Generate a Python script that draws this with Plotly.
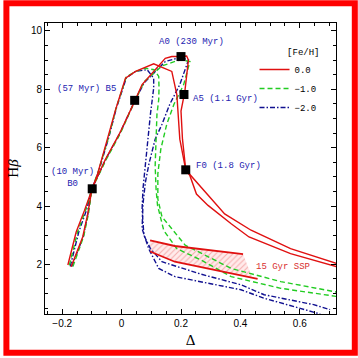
import plotly.graph_objects as go

# ---------------- data (Delta, Hbeta) ----------------
r1_d = [-0.181, -0.153, -0.125, -0.100, -0.081, -0.048, -0.020, 0.013, 0.047, 0.108, 0.169, 0.186, 0.191, 0.196, 0.216, 0.291, 0.347, 0.436, 0.569, 0.725]
r1_h = [1.98, 3.11, 3.85, 4.59, 5.10, 6.29, 7.31, 8.38, 8.61, 8.87, 8.61, 7.82, 7.14, 6.29, 5.24, 4.36, 3.73, 3.17, 2.54, 2.03]

r2_d = [-0.170, -0.131, -0.114, -0.100, -0.054, -0.008, 0.045, 0.069, 0.147, 0.169, 0.200, 0.219, 0.225, 0.213, 0.200, 0.205, 0.216, 0.230, 0.252, 0.291, 0.369, 0.429, 0.569, 0.725]
r2_h = [1.92, 2.94, 3.73, 4.59, 5.61, 6.46, 7.61, 8.16, 9.06, 9.12, 9.12, 9.14, 9.00, 7.93, 7.25, 6.29, 5.24, 5.04, 4.41, 4.02, 3.39, 2.94, 2.37, 1.92]

g1_d = [-0.176, -0.148, -0.121, -0.100, -0.078, -0.044, -0.018, 0.016, 0.047, 0.080, 0.109, 0.125, 0.126, 0.125, 0.119, 0.116, 0.113, 0.116, 0.121, 0.142, 0.186, 0.269, 0.369, 0.536, 0.725]
g1_h = [1.97, 3.12, 3.87, 4.59, 5.20, 6.35, 7.37, 8.43, 8.61, 8.72, 8.67, 8.44, 8.04, 7.65, 7.14, 6.29, 5.38, 4.59, 4.02, 3.16, 2.54, 2.14, 1.58, 1.18, 0.90]

g2_d = [-0.164, -0.128, -0.111, -0.100, -0.051, -0.004, 0.045, 0.076, 0.136, 0.196, 0.230, 0.209, 0.176, 0.152, 0.132, 0.122, 0.122, 0.136, 0.169, 0.214, 0.369, 0.536, 0.725]
g2_h = [1.93, 2.95, 3.77, 4.59, 5.61, 6.49, 7.61, 8.26, 8.80, 9.01, 8.95, 8.16, 7.48, 6.80, 5.95, 5.10, 4.24, 3.63, 3.22, 2.66, 1.86, 1.41, 1.05]

b1_d = [-0.173, -0.144, -0.118, -0.100, -0.078, -0.044, -0.018, 0.016, 0.047, 0.086, 0.108, 0.108, 0.097, 0.086, 0.080, 0.072, 0.069, 0.075, 0.097, 0.136, 0.269, 0.402, 0.480, 0.647, 0.702]
b1_h = [1.93, 3.12, 3.87, 4.59, 5.16, 6.32, 7.34, 8.39, 8.61, 8.67, 8.38, 8.04, 7.14, 5.95, 5.38, 4.59, 3.90, 3.00, 2.54, 2.09, 1.66, 1.30, 0.96, 0.62, 0.45]

b2_d = [-0.168, -0.129, -0.113, -0.100, -0.053, -0.006, 0.045, 0.076, 0.147, 0.197, 0.225, 0.196, 0.162, 0.136, 0.113, 0.092, 0.080, 0.072, 0.069, 0.091, 0.125, 0.180, 0.402, 0.480, 0.669]
b2_h = [1.93, 2.95, 3.77, 4.59, 5.61, 6.49, 7.61, 8.22, 8.95, 9.09, 9.00, 8.16, 7.48, 6.80, 6.29, 5.44, 4.81, 4.07, 3.22, 2.54, 1.86, 1.58, 1.13, 0.84, 0.30]

# spectral-type / age markers
mark_d = [-0.099, 0.044, 0.200, 0.210, 0.216]
mark_h = [4.59, 7.62, 9.12, 7.82, 5.24]
mark_lbl = ["(10 Myr)<br>B0", "(57 Myr) B5", "A0 (230 Myr)", "A5 (1.1 Gyr)", "F0 (1.8 Gyr)"]
lbl_d = [-0.165, -0.118, 0.236, 0.349, 0.361]
lbl_h = [4.97, 8.01, 9.63, 7.65, 5.36]

# 15 Gyr SSP band
ssp_up_d = [0.096, 0.179, 0.409]
ssp_up_h = [2.82, 2.63, 2.35]
ssp_lo_d = [0.096, 0.179, 0.369, 0.458]
ssp_lo_h = [2.44, 2.09, 1.69, 1.50]
ssp_edge_d, ssp_edge_h = 0.440, 1.55

RED, GREEN, BLUE = "#e01010", "#22cc22", "#101090"
LBL = "#2323b0"

fig = go.Figure()

# hatched SSP region
poly_d = ssp_up_d + [ssp_edge_d] + ssp_lo_d[:3][::-1]
poly_h = ssp_up_h + [ssp_edge_h] + ssp_lo_h[:3][::-1]
fig.add_trace(go.Scatter(x=poly_d, y=poly_h, mode="lines", fill="toself",
                         line=dict(width=0, color="rgba(0,0,0,0)"),
                         fillcolor="rgba(255,190,190,0.35)",
                         fillpattern=dict(shape="/", fgcolor="rgba(225,60,60,0.7)",
                                          bgcolor="rgba(255,215,215,0.5)", size=4, solidity=0.25),
                         showlegend=False, hoverinfo="skip"))

curves = [
    (b1_d, b1_h, BLUE, "5px,2px,1.5px,2px", "\u22122.0", "m2", False),
    (b2_d, b2_h, BLUE, "5px,2px,1.5px,2px", "\u22122.0", "m2", True),
    (g1_d, g1_h, GREEN, "5px,3px", "\u22121.0", "m1", False),
    (g2_d, g2_h, GREEN, "5px,3px", "\u22121.0", "m1", True),
    (r1_d, r1_h, RED, "solid", "0.0", "m0", False),
    (r2_d, r2_h, RED, "solid", "0.0", "m0", True),
]
order = {"m0": 1, "m1": 2, "m2": 3}
for xd, yd, col, dash, name, grp, show in curves:
    fig.add_trace(go.Scatter(x=xd, y=yd, mode="lines", name=name,
                             line=dict(color=col, width=1.4, dash=dash),
                             legendgroup=grp, showlegend=show,
                             legendrank=order[grp]))

# SSP boundary lines
fig.add_trace(go.Scatter(x=ssp_up_d, y=ssp_up_h, mode="lines",
                         line=dict(color=RED, width=1.8), showlegend=False))
fig.add_trace(go.Scatter(x=ssp_lo_d, y=ssp_lo_h, mode="lines",
                         line=dict(color=RED, width=1.8), showlegend=False))

# markers
fig.add_trace(go.Scatter(x=mark_d, y=mark_h, mode="markers",
                         marker=dict(symbol="square", size=9, color="black"),
                         showlegend=False))

for t, xd, yd in zip(mark_lbl, lbl_d, lbl_h):
    fig.add_annotation(x=xd, y=yd, text=t, showarrow=False,
                       font=dict(family="Liberation Mono", size=9, color=LBL))
fig.add_annotation(x=0.544, y=1.92, text="15 Gyr SSP", showarrow=False,
                   font=dict(family="Liberation Mono", size=9, color="#d83030"))

tickfont = dict(family="Liberation Sans", size=10, color="black")
axcommon = dict(showline=True, linecolor="black", linewidth=1, mirror="ticks",
                ticks="inside", ticklen=5, tickcolor="black", showgrid=False,
                zeroline=False, tickfont=tickfont)

fig.update_xaxes(range=[-0.258, 0.722], tick0=-0.2, dtick=0.2,
                 minor=dict(ticks="inside", ticklen=3, dtick=0.05, tick0=0, tickcolor="black"),
                 title=dict(text="\u0394", font=dict(family="Liberation Serif", size=15), standoff=6),
                 **axcommon)
fig.update_yaxes(range=[0.3, 10.27], tick0=0, dtick=2,
                 minor=dict(ticks="inside", ticklen=3, dtick=0.5, tick0=0, tickcolor="black"),
                 title=dict(text="H<i>\u03b2</i>", font=dict(family="Liberation Serif", size=15), standoff=8),
                 **axcommon)

# red picture frame (line centred 3 px inside the figure edge, 6 px wide)
W, H = 358, 358
L, R, T, B = 42, 22, 23, 42
pw, ph = W - L - R, H - T - B
fig.add_shape(type="rect", xref="paper", yref="paper",
              x0=-(L - 3) / pw, x1=1 + (R - 3) / pw, y0=-(B - 3) / ph, y1=1 + (T - 3) / ph,
              line=dict(color="red", width=6), fillcolor="rgba(0,0,0,0)", layer="above")

fig.update_layout(
    width=W, height=H,
    margin=dict(l=L, r=R, t=T, b=B),
    paper_bgcolor="white", plot_bgcolor="white",
    font=dict(family="Liberation Sans", size=10, color="black"),
    legend=dict(x=0.72, y=0.93, xanchor="left", yanchor="top",
                bgcolor="rgba(0,0,0,0)", itemwidth=30,
                font=dict(family="Liberation Mono", size=9, color="black"),
                title=dict(text="[Fe/H]", side="top right",
                           font=dict(family="Liberation Mono", size=9)),
                tracegroupgap=0, traceorder="normal"),
)

fig.write_html("out.html", config={"displayModeBar": False},
               post_script="document.body.style.margin='0px';document.body.style.overflow='hidden';")
